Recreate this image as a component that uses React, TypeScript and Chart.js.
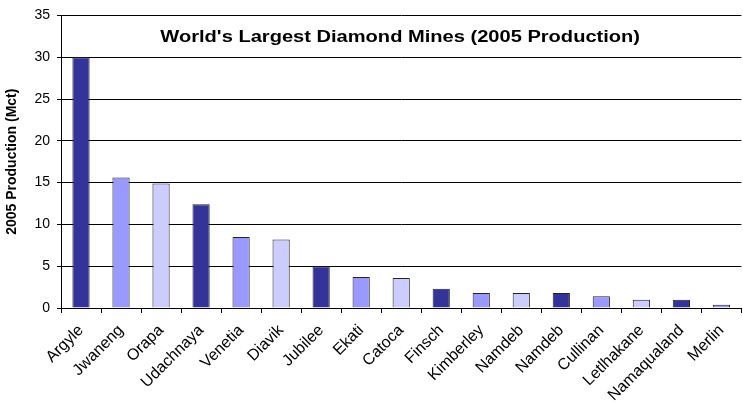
import React, { useEffect, useRef } from 'react';
import { Chart, registerables } from 'chart.js';

Chart.register(...registerables);

const TITLE = "World's Largest Diamond Mines (2005 Production)";
const Y_TITLE = '2005 Production (Mct)';

const mines = [
  'Argyle', 'Jwaneng', 'Orapa', 'Udachnaya', 'Venetia', 'Diavik', 'Jubilee', 'Ekati', 'Catoca',
  'Finsch', 'Kimberley', 'Namdeb', 'Namdeb', 'Cullinan', 'Letlhakane', 'Namaqualand', 'Merlin',
];
const production = [30, 15.6, 14.9, 12.4, 8.5, 8.2, 5.0, 3.7, 3.6, 2.3, 1.8, 1.8, 1.8, 1.4, 1.0, 1.0, 0.4];
const palette = ['#333399', '#9999FF', '#CCCCFF'];
const barColors = mines.map((_, i) => palette[i % 3]);

const FONT = '"Liberation Sans", Arial, sans-serif';

const innerTitle = {
  id: 'innerTitle',
  afterDatasetsDraw(chart: any) {
    const { ctx, chartArea } = chart;
    const cx = (chartArea.left + chartArea.right) / 2;
    ctx.save();
    ctx.translate(cx - 1, chartArea.top + 22);
    ctx.scale(1.255, 1);
    ctx.font = `bold 16px ${FONT}`;
    ctx.fillStyle = '#000';
    ctx.textAlign = 'center';
    ctx.textBaseline = 'middle';
    ctx.fillText(TITLE, 0, 0);
    ctx.restore();
  },
};

export default function App() {
  const ref = useRef<HTMLCanvasElement | null>(null);
  useEffect(() => {
    document.body.style.margin = '0';
    const canvas = ref.current!;
    const chart = new Chart(canvas, {
      type: 'bar',
      data: {
        labels: mines,
        datasets: [
          {
            data: production,
            backgroundColor: barColors,
            borderColor: '#222222',
            borderWidth: 1,
            barPercentage: 0.43,
            categoryPercentage: 1,
          },
        ],
      },
      options: {
        animation: false,
        responsive: false,
        maintainAspectRatio: false,
        layout: { padding: { top: 15, right: 1, left: 0, bottom: 0 } },
        plugins: {
          legend: { display: false },
          title: { display: false },
          tooltip: { enabled: false },
        },
        scales: {
          x: {
            grid: {
              display: true,
              drawOnChartArea: false,
              drawTicks: true,
              tickLength: 5,
              color: '#000',
              offset: true,
            },
            border: { display: true, color: '#000', width: 1 },
            ticks: {
              color: '#000',
              font: { family: FONT, size: 16 },
              minRotation: 45,
              maxRotation: 45,
              autoSkip: false,
              padding: 8,
            },
            afterFit(scale: any) {
              scale.height = 97;
            },
          },
          y: {
            min: 0,
            max: 35,
            ticks: {
              stepSize: 5,
              color: '#000',
              font: { family: FONT, size: 14 },
              padding: 7,
            },
            grid: {
              color: '#000',
              lineWidth: 1,
              drawTicks: true,
              tickLength: 4,
            },
            border: { display: true, color: '#000', width: 1 },
            title: {
              display: true,
              text: Y_TITLE,
              color: '#000',
              font: { family: FONT, size: 14, weight: 'bold' },
              padding: { top: 4, bottom: 0 },
            },
            afterFit(scale: any) {
              scale.width = 61;
            },
          },
        },
      },
      plugins: [innerTitle],
    });
    return () => chart.destroy();
  }, []);
  return (
    <div style={{ width: 743, height: 405 }}>
      <canvas ref={ref} width={743} height={405} style={{ width: 743, height: 405, display: 'block' }} />
    </div>
  );
}
